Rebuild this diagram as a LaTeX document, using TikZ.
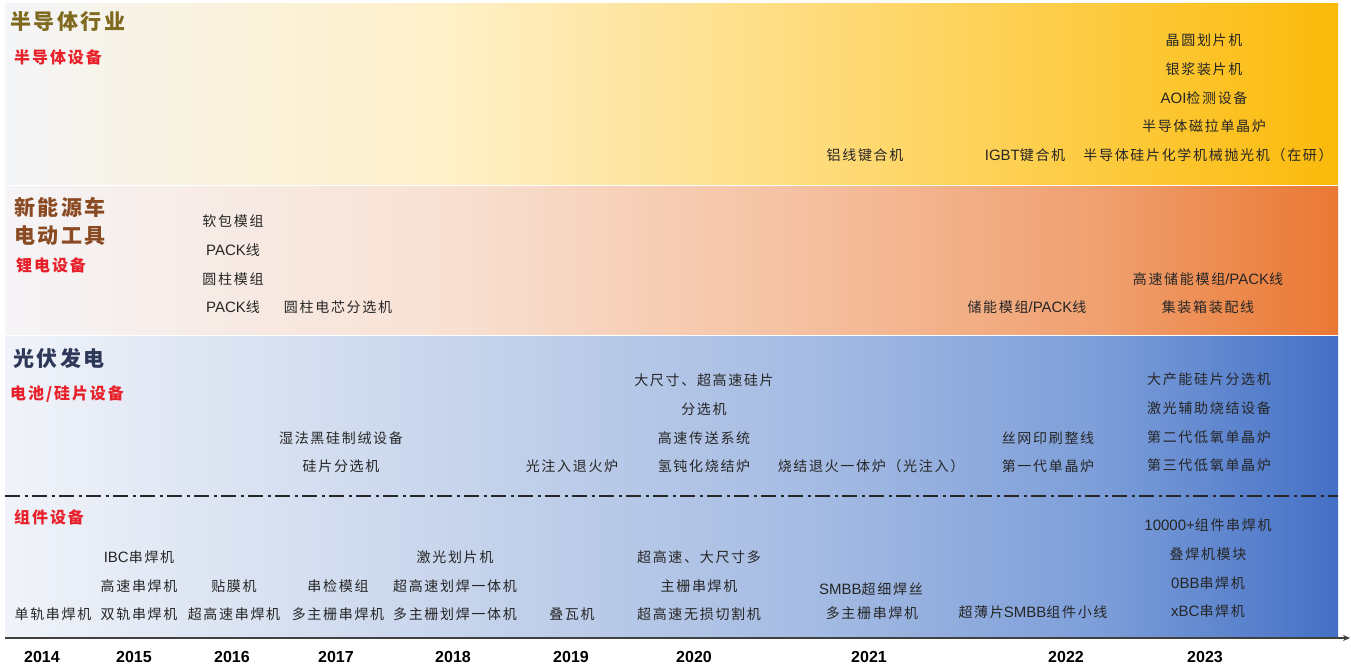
\documentclass[tikz,border=0pt]{standalone}
\usepackage{fontspec}
\newfontfamily\cjk[LetterSpace=12]{Noto Sans CJK SC}
\newfontfamily\yrfont{Liberation Sans}
\newcommand\ltn[1]{{\yrfont\fontsize{15pt}{16pt}\selectfont #1}}
\usetikzlibrary{%
  positioning,%
  arrows.meta%
}

\definecolor{txtgray}{HTML}{262626}
\definecolor{subred}{HTML}{E8202A}
\definecolor{semibrown}{HTML}{7F6A1F}
\definecolor{librown}{HTML}{8A4B22}
\definecolor{pvnavy}{HTML}{2E3858}
\definecolor{axisgray}{HTML}{404040}
% band colours, left to right
\definecolor{semiA}{HTML}{F4F5F9}
\definecolor{semiB}{HTML}{F8F3E6}
\definecolor{semiC}{HTML}{FEF0C8}
\definecolor{semiD}{HTML}{FEDC7E}
\definecolor{semiE}{HTML}{FDCB40}
\definecolor{semiF}{HTML}{FBBA0A}
\definecolor{liA}{HTML}{F6F4F7}
\definecolor{liB}{HTML}{F8E1D3}
\definecolor{liC}{HTML}{F5C0A0}
\definecolor{liD}{HTML}{F0A070}
\definecolor{liE}{HTML}{EA7833}
\definecolor{pvA}{HTML}{F0F3F9}
\definecolor{pvB}{HTML}{C8D5EC}
\definecolor{pvC}{HTML}{A6BCE3}
\definecolor{pvD}{HTML}{7D9ED9}
\definecolor{pvE}{HTML}{4470C5}

\pgfdeclarehorizontalshading{semiband}{100bp}{color(0bp)=(semiA); color(25bp)=(semiA);
  color(30bp)=(semiB); color(41.5bp)=(semiC); color(55bp)=(semiD); color(66bp)=(semiE);
  color(75bp)=(semiF); color(100bp)=(semiF)}
\pgfdeclarehorizontalshading{liband}{100bp}{color(0bp)=(liA); color(25bp)=(liA);
  color(41.5bp)=(liB); color(55bp)=(liC); color(66bp)=(liD); color(75bp)=(liE);
  color(100bp)=(liE)}
\pgfdeclarehorizontalshading{pvband}{100bp}{color(0bp)=(pvA); color(25bp)=(pvA);
  color(41.5bp)=(pvB); color(55bp)=(pvC); color(66bp)=(pvD); color(75bp)=(pvE);
  color(100bp)=(pvE)}

\begin{document}
\begin{tikzpicture}[
      x=1pt, y=1pt,
      item/.style={
        font=\cjk\fontsize{14pt}{16pt}\selectfont,
        text=txtgray,
        inner sep=0pt,
        text height=12pt,
        text depth=2pt
      },
      heading/.style={
        anchor=west,
        inner sep=0pt,
        align=left,
        font=\cjk\bfseries\fontsize{21pt}{28pt}\selectfont,
        text=#1
      },
      subhead/.style={
        anchor=west,
        inner sep=0pt,
        font=\cjk\bfseries\fontsize{16pt}{18pt}\selectfont,
        text=subred
      },
      yearlbl/.style={
        inner sep=0pt,
        font=\yrfont\bfseries\fontsize{16pt}{18pt}\selectfont
      },
      node distance=14.5pt,
      axisline/.style={
        -{Stealth[length=7pt,width=6pt]},
        line width=1.6pt,
        draw=axisgray
      },
      splitline/.style={
        line width=1.8pt,
        draw=txtgray,
        dash pattern=on 15pt off 4.5pt on 3pt off 4.5pt
      }
    ]
    \useasboundingbox (0,0) rectangle (1351,671);

    % three bands
    \shade[shading=semiband] (5,486) rectangle (1338,667);
    \shade[shading=liband] (5,336) rectangle (1338,484);
    \shade[shading=pvband] (5,33) rectangle (1338,334);

    % semiconductor
    \node[heading=semibrown] (hdSemi) at (10,649) {半导体行业};
    \node[subhead] (subSemi) at (14,614) {半导体设备};
    \node[item] (semiAl) at (865,515) {铝线键合机};
    \node[item] (semiIgbt) at (1025,515) {\ltn{IGBT}键合机};
    \node[item] (semiCmp) at (1208,515) {半导体硅片化学机械抛光机（在研）};
    \node[item] (semiCz) at (1204,544) {半导体磁拉单晶炉};
    \node[item, above=of semiCz] (semiAoi) {\ltn{AOI}检测设备};
    \node[item, above=of semiAoi] (semiAg) {银浆装片机};
    \node[item, above=of semiAg] (semiDice) {晶圆划片机};

    % lithium
    \node[heading=librown] (hdEv) at (14,450) {新能源车\\电动工具};
    \node[subhead] (subLi) at (16,406) {锂电设备};
    \node[item] (liPackB) at (233,363) {\ltn{PACK}线};
    \node[item, above=of liPackB] (liCyl) {圆柱模组};
    \node[item, above=of liCyl] (liPackA) {\ltn{PACK}线};
    \node[item, above=of liPackA] (liSoft) {软包模组};
    \node[item] (liSort) at (338,363) {圆柱电芯分选机};
    \node[item] (liEss) at (1027,363) {储能模组\ltn{/PACK}线};
    \node[item] (liBox) at (1208,363) {集装箱装配线};
    \node[item, above=of liBox] (liEssHs) {高速储能模组\ltn{/PACK}线};

    % photovoltaic, cell and wafer
    \node[heading=pvnavy] (hdPv) at (13,313) {光伏发电};
    \node[subhead] (subCell) at (10,277) {电池/硅片设备};
    \node[item] (pvSortA) at (341,204) {硅片分选机};
    \node[item, above=of pvSortA] (pvTex) {湿法黑硅制绒设备};
    \node[item] (pvLia) at (572,204) {光注入退火炉};
    \node[item] (pvHyd) at (704,204) {氢钝化烧结炉};
    \node[item, above=of pvHyd] (pvConv) {高速传送系统};
    \node[item, above=of pvConv] (pvSortC) {分选机};
    \node[item, above=of pvSortC] (pvSortB) {大尺寸、超高速硅片};
    \node[item] (pvFire) at (871,204) {烧结退火一体炉（光注入）};
    \node[item] (pvCzA) at (1048,204) {第一代单晶炉};
    \node[item, above=of pvCzA] (pvScreen) {丝网印刷整线};
    \node[item] (pvCzC) at (1209,205) {第三代低氧单晶炉};
    \node[item, above=of pvCzC] (pvCzB) {第二代低氧单晶炉};
    \node[item, above=of pvCzB] (pvLaser) {激光辅助烧结设备};
    \node[item, above=of pvLaser] (pvSortD) {大产能硅片分选机};

    \coordinate (dashL) at (5,175);
    \coordinate (dashR) at (1338,175);
    \draw[splitline] (dashL) -- (dashR);

    % photovoltaic, modules
    \node[subhead] (subMod) at (14,154) {组件设备};
    \node[item] (mSingle) at (53,56) {单轨串焊机};
    \node[item] (mDual) at (139,56) {双轨串焊机};
    \node[item, above=of mDual] (mHs) {高速串焊机};
    \node[item, above=of mHs] (mIbc) {\ltn{IBC}串焊机};
    \node[item] (mUhs) at (234,56) {超高速串焊机};
    \node[item, above=of mUhs] (mFilm) {贴膜机};
    \node[item] (mMbb) at (338,56) {多主栅串焊机};
    \node[item, above=of mMbb] (mInsp) {串检模组};
    \node[item] (mMbbCut) at (455,56) {多主栅划焊一体机};
    \node[item, above=of mMbbCut] (mUhsCut) {超高速划焊一体机};
    \node[item, above=of mUhsCut] (mLaser) {激光划片机};
    \node[item] (mShingle) at (572,56) {叠瓦机};
    \node[item] (mCut) at (699,56) {超高速无损切割机};
    \node[item, above=of mCut] (mBigB) {主栅串焊机};
    \node[item, above=of mBigB] (mBigA) {超高速、大尺寸多};
    \node[item] (mSmbbB) at (872,57) {多主栅串焊机};
    \node[item] (mSmbbA) at (871,81) {\ltn{SMBB}超细焊丝};
    \node[item] (mThin) at (1033,58) {超薄片\ltn{SMBB}组件小线};
    \node[item] (mXbc) at (1208,59) {\ltn{xBC}串焊机};
    \node[item, above=of mXbc] (mZbb) {\ltn{0BB}串焊机};
    \node[item, above=of mZbb] (mStack) {叠焊机模块};
    \node[item, above=of mStack] (mTenK) {\ltn{10000+}组件串焊机};

    % time axis
    \coordinate (axStart) at (5,33);
    \coordinate (axEnd) at (1350,33);
    \draw[axisline] (axStart) -- (axEnd);
    \foreach \yr/\xx in {2014/42, 2015/134, 2016/232, 2017/336, 2018/453,
                         2019/571, 2020/694, 2021/869, 2022/1066, 2023/1205}
      \node[yearlbl] (yr\yr) at (\xx,14) {\yr};
  \end{tikzpicture}
\end{document}
